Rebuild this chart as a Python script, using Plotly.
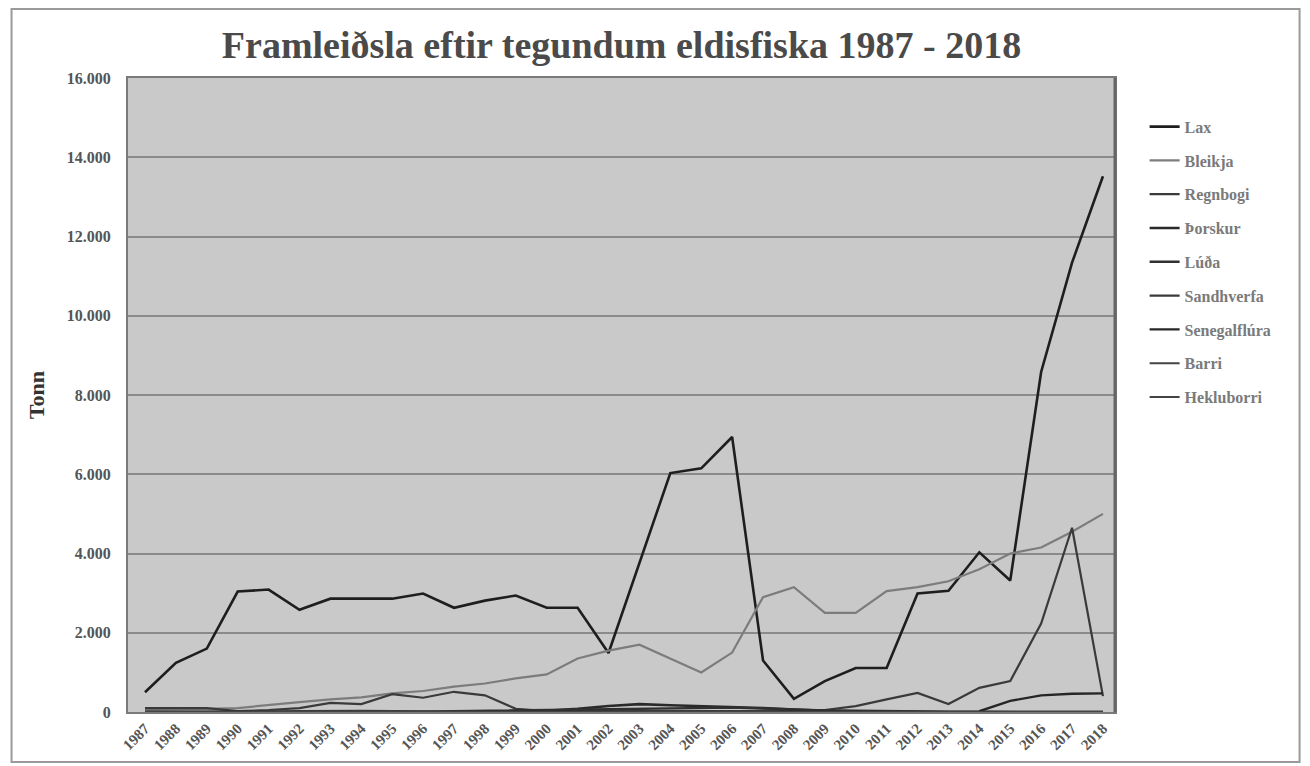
import plotly.graph_objects as go

years = list(range(1987, 2019))

lax = [500, 1240, 1600, 3040, 3090, 2580, 2860, 2860, 2860, 2990, 2630, 2810, 2940, 2630, 2630, 1490,
       3760, 6030, 6150, 6940, 1300, 330, 780, 1110, 1110, 2990, 3060, 4030, 3320, 8580, 11340, 13520]
bleikja = [50, 60, 80, 100, 180, 250, 320, 370, 470, 530, 640, 720, 850, 950, 1350, 1550,
           1700, 1350, 1000, 1500, 2900, 3150, 2500, 2500, 3050, 3150, 3300, 3600, 4000, 4150, 4550, 5000]
regnbogi = [100, 100, 100, 20, 50, 100, 230, 200, 450, 360, 510, 420, 80, 20, 20, 20,
            20, 20, 20, 20, 20, 20, 50, 150, 320, 480, 200, 610, 780, 2230, 4650, 400]
thorskur = [0, 0, 0, 0, 0, 0, 0, 0, 0, 0, 0, 0, 0, 30, 80, 150,
            200, 170, 150, 130, 100, 60, 30, 20, 10, 0, 0, 0, 0, 0, 0, 0]
luda = [0, 0, 0, 0, 0, 0, 0, 0, 0, 10, 20, 30, 40, 60, 70, 80,
        90, 100, 110, 110, 90, 60, 40, 30, 20, 10, 10, 10, 0, 0, 0, 0]
sandhverfa = [0, 0, 0, 0, 10, 20, 30, 30, 20, 10, 0, 0, 0, 0, 0, 0,
              0, 0, 0, 0, 0, 0, 0, 0, 0, 0, 0, 0, 0, 0, 0, 0]
senegalflura = [None] * 27 + [20, 280, 420, 460, 470]
barri = [0] * 32
hekluborri = [0] * 32

series = [
    ("Lax", lax, "#1e1e1e", 2.6),
    ("Bleikja", bleikja, "#7c7c7c", 2.2),
    ("Regnbogi", regnbogi, "#3a3a3a", 2.2),
    ("Þorskur", thorskur, "#2a2a2a", 2.6),
    ("Lúða", luda, "#303030", 2.4),
    ("Sandhverfa", sandhverfa, "#3a3a3a", 2.2),
    ("Senegalflúra", senegalflura, "#262626", 2.4),
    ("Barri", barri, "#444444", 2.0),
    ("Hekluborri", hekluborri, "#444444", 2.0),
]

fig = go.Figure()
for i, (name, vals, col, w) in enumerate(series):
    fig.add_trace(go.Scatter(
        x=years, y=vals, name=name, mode="lines",
        line=dict(color=col, width=w), legendgroup=f"g{i}",
    ))

serif = "Liberation Serif, Times New Roman, serif"

fig.update_layout(
    width=1302, height=758,
    margin=dict(l=120, r=195, t=70, b=54),
    paper_bgcolor="white",
    plot_bgcolor="#c9c9c9",
    separators=",.",
    font=dict(family=serif, color="#555555"),
    title=dict(
        text="<b>Framleiðsla eftir tegundum eldisfiska 1987 - 2018</b>",
        x=0.5, xref="paper", xanchor="center",
        y=0.951, yref="container", yanchor="middle",
        font=dict(family=serif, size=38, color="#4a4a4a"),
    ),
    showlegend=True,
    legend=dict(
        x=1.03, xanchor="left", y=0.95, yanchor="top",
        font=dict(family=serif, size=16, color="#7a7a7a", weight="bold"),
        bgcolor="rgba(0,0,0,0)",
        traceorder="grouped", tracegroupgap=10,
    ),
    xaxis=dict(
        range=[1986.45, 2018.39],
        tickmode="array", tickvals=years, ticktext=[str(y) for y in years],
        tickangle=-45,
        tickfont=dict(family=serif, size=15, color="#555555", weight="bold"),
        showgrid=False, zeroline=False,
        showline=True, linecolor="#7a7a7a", linewidth=2, mirror=True,
        ticks="",
    ),
    yaxis=dict(
        range=[0, 16000], dtick=2000, tickformat=",d",
        tickfont=dict(family=serif, size=16, color="#555555", weight="bold"),
        ticklabelstandoff=12,
        title=dict(text="<b>Tonn</b>", font=dict(family=serif, size=22, color="#333333"), standoff=16),
        showgrid=True, gridcolor="#8a8a8a", gridwidth=1.5,
        zeroline=False,
        showline=True, linecolor="#7a7a7a", linewidth=2, mirror=True,
        ticks="", ticklen=0,
    ),
    shapes=[
        dict(type="rect", xref="paper", yref="paper",
             x0=-0.118, x1=1.187, y0=-0.079, y1=1.109,
             line=dict(color="#9a9a9a", width=2)),
        dict(type="line", xref="paper", yref="paper",
             x0=1.0, x1=1.0, y0=0, y1=1,
             line=dict(color="#666666", width=3)),
    ],
)

fig.write_html("out.html")
